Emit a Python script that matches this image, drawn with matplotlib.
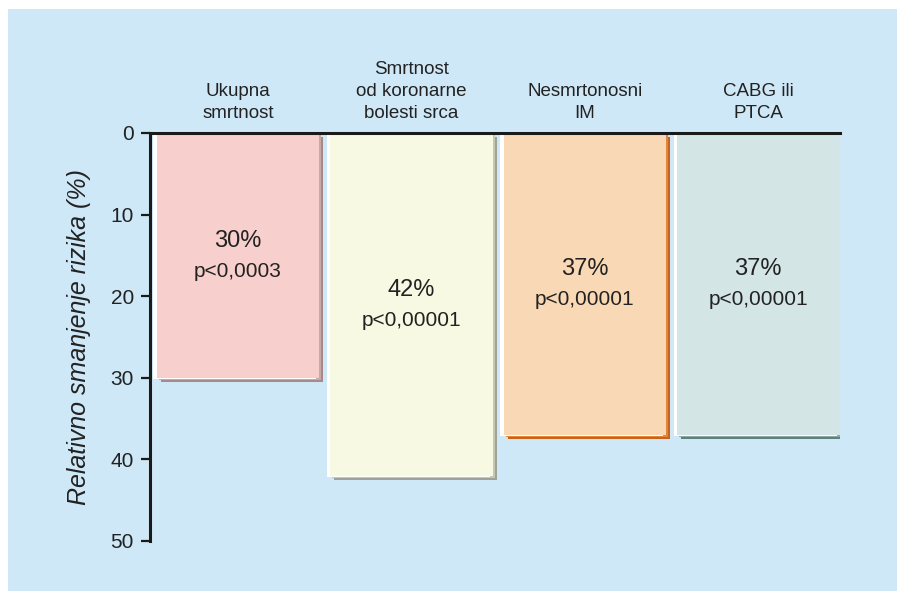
import matplotlib
matplotlib.use("Agg")
import matplotlib.pyplot as plt
import matplotlib.patheffects as pe
from matplotlib.patches import Rectangle

# Data
categories = ["Ukupna\nsmrtnost", "Smrtnost\nod koronarne\nbolesti srca",
              "Nesmrtonosni\nIM", "CABG ili\nPTCA"]
reductions = [30, 42, 37, 37]
p_values = ["p<0,0003", "p<0,00001", "p<0,00001", "p<0,00001"]
y_ticks = [0, 10, 20, 30, 40, 50]

# Styling
bg = "#cfe8f7"
fills = ["#f7cfcc", "#f8f9e3", "#f9d9b5", "#d4e5e5"]
mids = ["#c7a9a7", "#c6c8b6", "#e0873a", "#8fa9a7"]
darks = ["#a58a89", "#9ea396", "#c9621f", "#5f817e"]
txt = "#222222"

plt.rcParams["font.family"] = ["Liberation Sans", "DejaVu Sans"]

W, H = 897, 591
fig = plt.figure(figsize=(W / 100, H / 100), dpi=100, facecolor="white")
fig.patches.append(Rectangle((8 / W, 0), 1 - 8 / W, 1 - 9 / H,
                             transform=fig.transFigure, facecolor=bg,
                             edgecolor="none", zorder=-10))

left, right, top, bottom = 150, 840, 133, 541
ax = fig.add_axes([left / W, 1 - bottom / H, (right - left) / W, (bottom - top) / H])
ax.set_facecolor("none")

for i, v in enumerate(reductions):
    bar = ax.bar(i, v, width=0.937, bottom=0, color=fills[i], edgecolor="none",
                 zorder=2)[0]
    bar.set_path_effects([
        pe.SimplePatchShadow(offset=(2.9, -2.9), shadow_rgbFace=darks[i], alpha=1),
        pe.SimplePatchShadow(offset=(1.5, -1.5), shadow_rgbFace=mids[i], alpha=1),
        pe.SimplePatchShadow(offset=(-2.2, -0.7), shadow_rgbFace="white", alpha=1),
        pe.Normal(),
    ])
    mid = v / 2
    ax.text(i, mid - 1.8, f"{v}%", ha="center", va="center", fontsize=17,
            color=txt, zorder=5)
    ax.text(i, mid + 1.95, p_values[i], ha="center", va="center", fontsize=15,
            color=txt, zorder=5)
    ax.text(i, -1.4, categories[i], ha="center", va="bottom", fontsize=13.5,
            color=txt, linespacing=1.36, clip_on=False)

ax.set_xlim(-0.506, 3.471)
ax.set_ylim(50, 0)
ax.set_xticks([])
ax.set_yticks(y_ticks)
ax.set_yticklabels([str(t) for t in y_ticks], fontsize=15, color=txt)
ax.tick_params(axis="y", direction="out", length=6.5, width=1.6, pad=5,
               color="#1a1a1a")

for s in ("right", "bottom"):
    ax.spines[s].set_visible(False)
for s in ("left", "top"):
    ax.spines[s].set_linewidth(2.2)
    ax.spines[s].set_color("#1a1a1a")
    ax.spines[s].set_zorder(4)

ax.set_ylabel("Relativno smanjenje rizika (%)", fontsize=18, style="italic",
              color=txt, labelpad=14)

fig.savefig("out.png", dpi=100, facecolor="white")
